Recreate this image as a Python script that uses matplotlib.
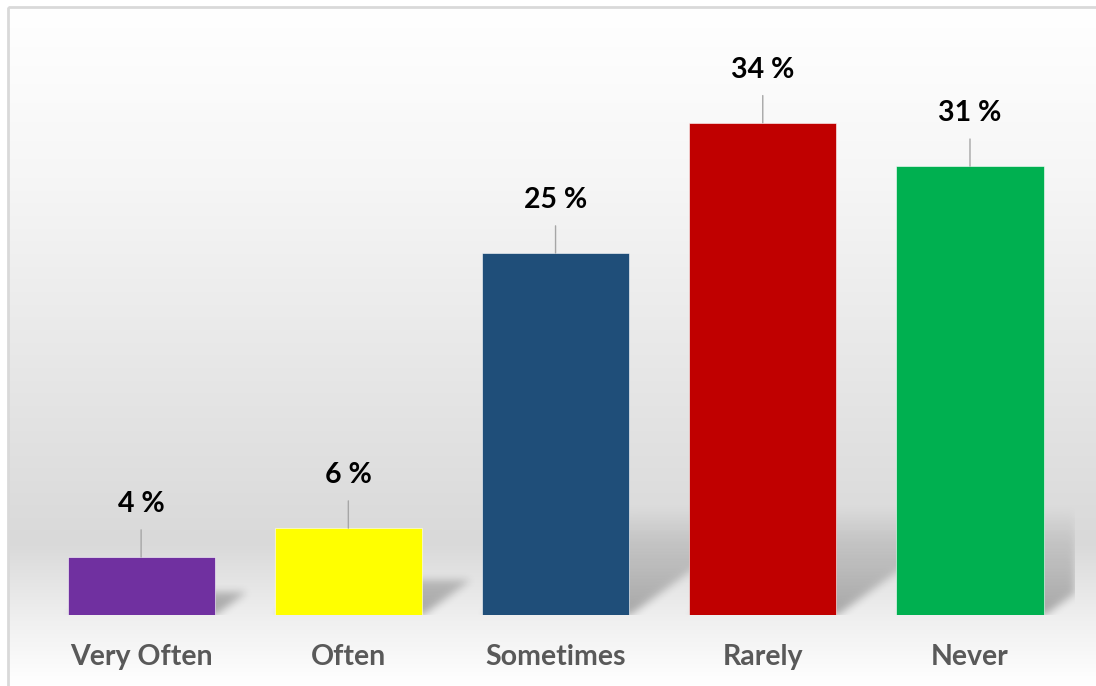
import numpy as np
import matplotlib.pyplot as plt
from matplotlib.patches import Rectangle
from matplotlib.colors import LinearSegmentedColormap

# data
categories = ['Very Often', 'Often', 'Sometimes', 'Rarely', 'Never']
values = [4, 6, 25, 34, 31]
bar_colors = ['#7030A0', '#FFFF00', '#1F4E79', '#C00000', '#00B050']

W, H = 1096, 686
fig = plt.figure(figsize=(W / 100, H / 100), dpi=100)
font = ['Lato', 'DejaVu Sans']

# chart area background: vertical gradient + thin grey border
bg = fig.add_axes([0, 0, 1, 1], zorder=-1)
bg.set_xlim(0, W)
bg.set_ylim(H, 0)
bg.axis('off')
grad_cmap = LinearSegmentedColormap.from_list(
    'bg', [(0.0, '#ffffff'), (0.25, '#f6f6f6'), (0.55, '#e6e6e6'),
           (0.79, '#d9d9d9'), (0.9, '#efefef'), (1.0, '#ffffff')])
grad = np.linspace(0, 1, 256).reshape(-1, 1)
bg.imshow(grad, cmap=grad_cmap, aspect='auto', extent=(9, W + 5, H, 8),
          interpolation='bilinear', vmin=0, vmax=1)
bg.add_patch(Rectangle((8, 7), W, H, fill=False, edgecolor='#d9d9d9', lw=2))

# plot area
left, right, base, top = 37.5, 1073.6, 615, 36
ax = fig.add_axes([left / W, (H - base) / H, (right - left) / W, (base - top) / H])
ax.patch.set_alpha(0)
ax.set_xlim(-0.5, 4.5)
ax.set_ylim(0, 40)
for s in ax.spines.values():
    s.set_visible(False)
ax.set_xticks([])
ax.set_yticks([])

x = np.arange(len(categories))
width = 0.71
pw, ph = int(round(right - left)), int(round(base - top))
px_x = pw / 5.0
px_y = ph / 40.0

# soft perspective shadow, built as an alpha mask in pixel space and blurred
sy, sx, hf, amax = 0.4, 0.55, 270.0, 0.3
cols = np.arange(pw) + 0.5
rows = np.arange(ph) + 0.5
d = (ph - rows)[:, None]            # pixels above the baseline
hgt = d / sy                        # bar height casting this row
mask = np.zeros((ph, pw))
for xi, v in zip(x, values):
    l = (xi + 0.5 - width / 2) * px_x
    shift = sx * hgt
    inside = (cols[None, :] >= l + shift) & (cols[None, :] <= l + width * px_x + shift)
    inside &= hgt <= v * px_y
    a = np.clip(amax * (1 - hgt / hf), 0, None)
    mask = np.maximum(mask, np.where(inside, a, 0))

sig = 4.0
k = np.arange(-12, 13)
kern = np.exp(-k ** 2 / (2 * sig ** 2))
kern /= kern.sum()
pad = np.pad(mask, 12, mode='constant')
pad = np.apply_along_axis(lambda r: np.convolve(r, kern, mode='same'), 1, pad)
pad = np.apply_along_axis(lambda c: np.convolve(c, kern, mode='same'), 0, pad)
mask = pad[12:-12, 12:-12]
rgba = np.zeros((ph, pw, 4))
rgba[..., 3] = mask
ax.imshow(rgba, extent=(-0.5, 4.5, 0, 40), aspect='auto', zorder=2,
          interpolation='bilinear')

ax.bar(x, values, width=width, color=bar_colors, zorder=3,
       edgecolor='white', linewidth=0.4)

for xi, v, c in zip(x, values, categories):
    ax.annotate(f'{v} %', xy=(xi, v), xytext=(0, 38), textcoords='offset points',
                ha='center', va='center', fontsize=20.5, fontweight='bold',
                family=font, color='black',
                arrowprops=dict(arrowstyle='-', color='#a6a6a6', lw=1,
                                shrinkA=7, shrinkB=0))
    ax.annotate(c, xy=(xi, 0), xytext=(0, -30), textcoords='offset points',
                ha='center', va='center', fontsize=20.5, fontweight='bold',
                family=font, color='#595959')

fig.savefig('out.png', dpi=100)
